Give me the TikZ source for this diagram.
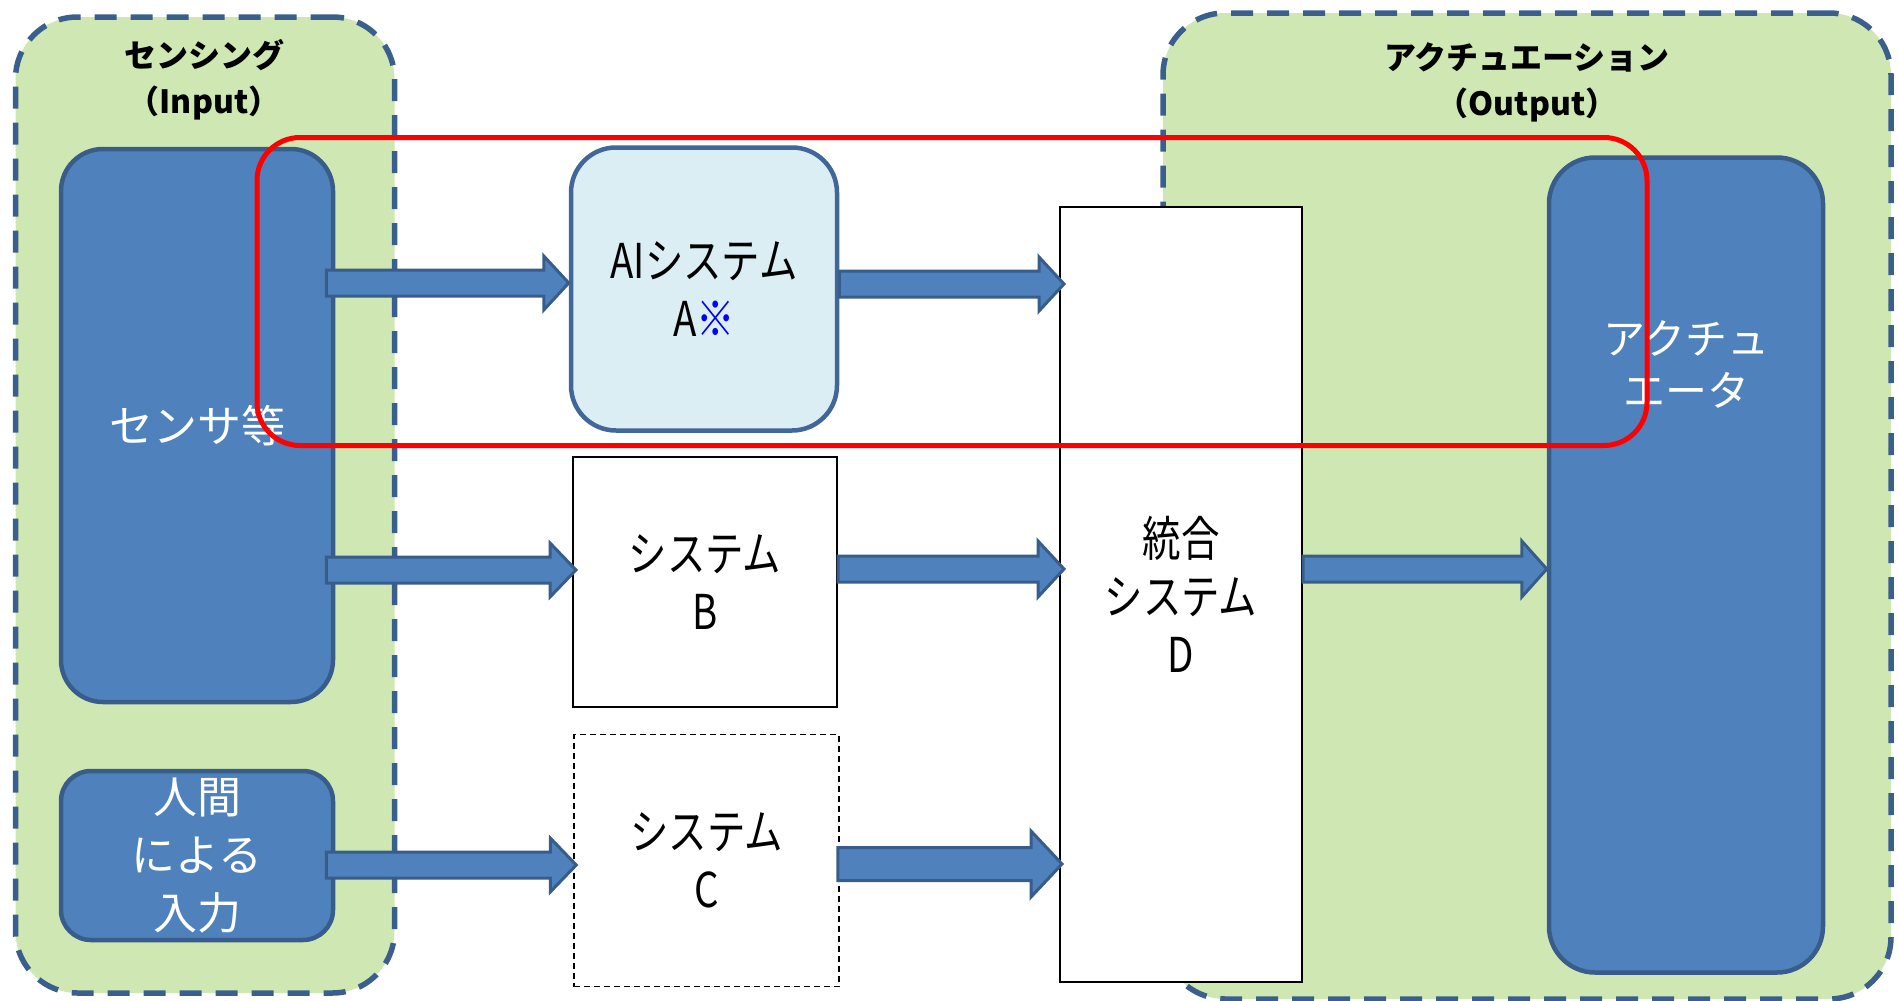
\documentclass[tikz,border=0pt]{standalone}
\usepackage{fontspec}
\usetikzlibrary{calc}
\newfontfamily\jp{Noto Sans CJK JP}
\definecolor{grpgreen}{HTML}{CFE8B3}
\definecolor{grpborder}{HTML}{3B5F8C}
\definecolor{boxblue}{HTML}{4F81BD}
\definecolor{boxedge}{HTML}{385D8A}
\definecolor{aifill}{HTML}{DBEEF4}
\definecolor{aiedge}{HTML}{41669A}
\definecolor{scopered}{HTML}{FF0000}
\newcommand\cond[1]{\scalebox{0.8}[1]{#1}}
% #1 from, #2 to, #3 y, #4 shaft half, #5 head half, #6 head length
\newcommand\blockarrow[6]{%
  \filldraw[barrow] let \p1=(#1), \p2=(#2), \p3=(0,#3) in
    (\x1,\y3+#4) -- (\x2-#6,\y3+#4) -- (\x2-#6,\y3+#5) -- (\x2,\y3)
    -- (\x2-#6,\y3-#5) -- (\x2-#6,\y3-#4) -- (\x1,\y3-#4) -- cycle;}
\begin{document}
\begin{tikzpicture}[x=1pt,y=-1pt,
  group/.style={rectangle, draw=grpborder, fill=grpgreen, line width=5.5pt,
    dash pattern=on 22pt off 14pt, rounded corners=62pt, inner sep=0pt},
  bluebox/.style={rectangle, draw=boxedge, fill=boxblue, line width=4.5pt,
    inner sep=0pt, text=white, align=center, font=\jp\fontsize{44}{58}\selectfont},
  aibox/.style={rectangle, draw=aiedge, fill=aifill, line width=4.5pt,
    rounded corners=45pt, inner sep=0pt, align=center, font=\jp\fontsize{48}{58}\selectfont},
  sysbox/.style={rectangle, draw=black, fill=white, line width=2pt,
    inner sep=0pt, align=center, font=\jp\fontsize{48}{58}\selectfont},
  title/.style={align=center, font=\jp\bfseries\fontsize{32}{46}\selectfont},
  barrow/.style={fill=boxblue, draw=boxedge, line width=3pt, line join=miter},
  scope/.style={rectangle, draw=scopered, line width=5pt, rounded corners=43pt, inner sep=0pt}
]
\useasboundingbox (0,0) rectangle (1899,1001);
% groups
\node[group, minimum width=379pt, minimum height=976pt] (ingrp) at (205,505) {};
\node[group, minimum width=728pt, minimum height=986pt] (outgrp) at (1527,506) {};
\node[title] (intitle) at (204,80) {センシング\\（Input）};
\node[title] (outtitle) at (1527,82) {アクチュエーション\\（Output）};
% input / output boxes
\node[bluebox, rounded corners=42pt, minimum width=272pt, minimum height=553pt] (sensor) at (197,425.5) {センサ等};
\node[bluebox, rounded corners=30pt, minimum width=272pt, minimum height=169pt] (human) at (197,855.5) {人間\\による\\入力};
\node[bluebox, rounded corners=46pt, minimum width=274pt, minimum height=815pt] (act) at (1686,565) {};
\node[text=white, align=center, font=\jp\fontsize{42}{52}\selectfont] (acttxt) at (1686,364) {アクチュ\\エータ};
% systems
\node[aibox, minimum width=266pt, minimum height=283pt] (ai) at (704,289) {\cond{AIシステム}\\\cond{A{\color{blue}※}}};
\node[sysbox, minimum width=264pt, minimum height=250pt] (sysB) at (705,582) {\cond{システム}\\\cond{B}};
\node[sysbox, line width=1.5pt, dash pattern=on 6pt off 4pt, minimum width=265pt, minimum height=252pt] (sysC) at (706.5,860.5) {\cond{システム}\\\cond{C}};
\node[sysbox, minimum width=242pt, minimum height=775pt] (sysD) at (1181,594.5) {\cond{統合}\\\cond{システム}\\\cond{D}};
% arrows
\blockarrow{$(sensor.east)+(-9,0)$}{ai.west}{283}{13pt}{27pt}{25pt}
\blockarrow{ai.east}{$(sysD.west)+(5,0)$}{284}{13pt}{27pt}{25pt}
\blockarrow{$(sensor.east)+(-9,0)$}{$(sysB.west)+(4,0)$}{570}{13pt}{27pt}{26pt}
\blockarrow{sysB.east}{$(sysD.west)+(5,0)$}{569}{13pt}{28pt}{26pt}
\blockarrow{$(human.east)+(-9,0)$}{$(sysC.west)+(3,0)$}{865}{13pt}{27pt}{26pt}
\blockarrow{$(sysC.east)+(-2,0)$}{$(sysD.west)+(3,0)$}{864}{16.5pt}{33pt}{31pt}
\blockarrow{sysD.east}{act.west}{569}{13pt}{28pt}{25pt}
% AI scope
\node[scope, minimum width=1390pt, minimum height=308pt] (aiscope) at (952,291.5) {};
\end{tikzpicture}
\end{document}
